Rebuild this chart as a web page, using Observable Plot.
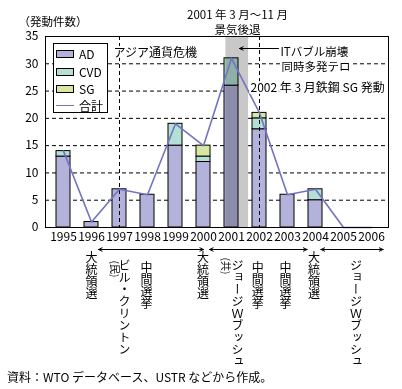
<!DOCTYPE html>
<html><head><meta charset="utf-8">
<script src="https://cdn.jsdelivr.net/npm/d3@7"></script>
<script src="https://cdn.jsdelivr.net/npm/@observablehq/plot@0.6"></script>
<style>
body{margin:0;background:#fff;font-family:"Noto Sans CJK JP",sans-serif;color:#000;}
#wrap{position:relative;width:402px;height:389px;overflow:hidden;}
#legend{position:absolute;left:53px;top:43px;width:55px;height:70px;box-sizing:border-box;border:1px solid #000;background:#fff;font-size:12px;}
.sw{position:absolute;left:2px;width:18px;height:8px;box-sizing:border-box;border:1px solid #000;}
.ln{position:absolute;left:2px;width:18px;height:0;border-top:1.5px solid #7373c3;}
.lt{position:absolute;left:25px;line-height:14px;white-space:nowrap;}
#caption{position:absolute;left:7px;top:369px;font-size:12px;line-height:16px;white-space:nowrap;}
text.vert{writing-mode:vertical-rl;text-orientation:mixed;}
</style></head><body>
<div id="wrap"><div id="chart"></div><div id="legend"></div><div id="caption"></div></div>
<script>
// ---- data ----
const years = ["1995","1996","1997","1998","1999","2000","2001","2002","2003","2004","2005","2006"];
const ad    = [13, 1, 7, 6, 15, 12, 26, 18, 6, 5, 0, 0];
const cvd   = [ 1, 0, 0, 0,  4,  1,  5,  2, 0, 2, 0, 0];
const sg    = [ 0, 0, 0, 0,  0,  2,  0,  1, 0, 0, 0, 0];
const total = [14, 1, 7, 6, 19, 15, 31, 21, 6, 7, 0, 0];
const types = ["AD", "CVD", "SG"];
const totalLabel = "合計";
const yTicks = [0, 5, 10, 15, 20, 25, 30, 35];
const gridTicks = [5, 10, 15, 20, 25, 30];
const eventYears = ["1997", "2002"];
const recessionYear = ["2001"];
const yLabel = "（発動件数）";
const recessionTitle = ["2001 年 3 月～11 月", "景気後退"];
const crisisNote = "アジア通貨危機";
const itNotes = ["ITバブル崩壊", "同時多発テロ"];
const sgNote = "2002 年 3 月鉄鋼 SG 発動";
const politics = [
  {year: "1996", label: "大統領選"},
  {year: "1997", label: "(民)"},
  {year: "1997", label: "ビル・クリントン"},
  {year: "1998", label: "中間選挙"},
  {year: "2000", label: "大統領選"},
  {year: "2001", label: "(共)"},
  {year: "2001", label: "ジョージＷブッシュ"},
  {year: "2002", label: "中間選挙"},
  {year: "2003", label: "中間選挙"},
  {year: "2004", label: "大統領選"},
  {year: "2005", label: "ジョージＷブッシュ"}
];
const terms = [
  {from: "1996", to: "2000"},
  {from: "2000", to: "2004"},
  {from: "2004", to: "2006"}
];
const captionText = "資料：WTO データベース、USTR などから作成。";

// ---- styles / layout ----
const typeColors = ["#b3b2db", "#b4dfd5", "#d8e7a1"];
const lineColor = "#7373c3";
const grayColor = "#c8c8c8";
const FONT = '"Noto Sans CJK JP", "Noto Sans", sans-serif';
const politicsLayout = [[0,24],[-8.5,33],[5,32],[-1,34],[-0.5,24],[-10,30],[6,32],[-1.8,34],[-2,34],[-1.5,24],[12.5,32]];
const termInsets = [[7,0],[6,8.5],[5.5,-11.5]];

const rows = [];
years.forEach((y, i) => {
  [ad, cvd, sg].forEach((arr, k) => { if (arr[i] > 0) rows.push({year: y, type: types[k], value: arr[i]}); });
});
const totals = years.map((y, i) => ({year: y, value: total[i]}));
const recessionTotals = totals.filter(d => recessionYear.includes(d.year));

const halo = {fill: "#000", stroke: "white", strokeWidth: 4};

const verticalLabels = new Set(politics.filter(p => !p.label.startsWith("(")).map(p => p.label));

const politicsMarks = politics.map((p, i) => {
  const [dx, dy] = politicsLayout[i];
  const sideways = p.label.startsWith("(");
  return Plot.text([p], {
    x: "year", text: "label", frameAnchor: "bottom", dx, dy,
    textAnchor: "start", fontSize: sideways ? 10 : 12,
    rotate: sideways ? 90 : 0, fill: "#000"
  });
});

const termMarks = terms.flatMap((t, i) => {
  const [a, b] = termInsets[i];
  const common = {y1: 0, y2: 0, dy: 22, stroke: "#000", strokeWidth: 1, headLength: 6, headAngle: 50};
  return [
    Plot.arrow([t], {...common, x1: "from", x2: "to", insetStart: a, insetEnd: b}),
    Plot.arrow([t], {...common, x1: "to", x2: "from", insetStart: b, insetEnd: a})
  ];
});

const chart = Plot.plot({
  width: 402, height: 389,
  marginTop: 36, marginBottom: 162, marginLeft: 45, marginRight: 14,
  x: {type: "band", domain: years, paddingInner: 0.5, paddingOuter: 0.25},
  y: {domain: [0, 35]},
  color: {domain: types, range: typeColors},
  style: {fontFamily: FONT, fontSize: "12px", color: "#000", background: "transparent", overflow: "visible"},
  marks: [
    Plot.gridY(gridTicks, {stroke: "#000", strokeOpacity: 1, strokeWidth: 1, strokeDasharray: "4,3"}),
    Plot.cell(recessionYear, {x: d => d, fill: grayColor, insetLeft: 1.4, insetRight: -10.1}),
    Plot.barY(rows, {x: "year", y: "value", fill: "type", stroke: "#000", strokeWidth: 1}),
    Plot.barY(recessionTotals, {x: "year", y: "value", fill: grayColor, mixBlendMode: "multiply", insetLeft: 1.4}),
    Plot.ruleX(eventYears, {stroke: "#000", strokeWidth: 1, strokeDasharray: "4,3"}),
    Plot.line(totals, {x: "year", y: "value", stroke: lineColor, strokeWidth: 1.6}),
    Plot.frame({stroke: "#000", strokeWidth: 1}),
    Plot.axisY(yTicks, {tickSize: 0, tickPadding: 7, fontSize: 12, label: null}),
    Plot.axisX({tickSize: 0, tickPadding: 5, fontSize: 12, label: null}),
    // y label
    Plot.text([yLabel], {frameAnchor: "top-left", text: d => d, textAnchor: "start", dx: -27, dy: -19, fontSize: 11.5, fill: "#000"}),
    // recession title
    Plot.text([recessionTitle[0]], {x: () => recessionYear[0], text: d => d, frameAnchor: "top", dx: 6, dy: -26, fontSize: 11.5, fill: "#000"}),
    Plot.text([recessionTitle[1]], {x: () => recessionYear[0], text: d => d, frameAnchor: "top", dx: 6, dy: -10.5, fontSize: 11.5, fill: "#000"}),
    // Asian crisis
    Plot.text([crisisNote], {x: () => eventYears[0], text: d => d, frameAnchor: "top", textAnchor: "start", dx: -6, dy: 12, fontSize: 12, ...halo}),
    // IT bubble / terror
    Plot.arrow([0], {x1: () => "2003", x2: () => recessionYear[0], y1: 35, y2: 35, dx: 8, dy: 12, insetStart: 17, stroke: "#000", strokeWidth: 1, headLength: 6, headAngle: 50}),
    Plot.text([itNotes[0]], {x: () => eventYears[1], text: d => d, frameAnchor: "top", textAnchor: "start", dx: 21, dy: 11, fontSize: 11.5, ...halo}),
    Plot.text([itNotes[1]], {x: () => eventYears[1], text: d => d, frameAnchor: "top", textAnchor: "start", dx: 22, dy: 26, fontSize: 11.5, ...halo}),
    // Steel SG
    Plot.text([sgNote], {x: () => eventYears[1], text: d => d, frameAnchor: "top", textAnchor: "start", dx: -9, dy: 47, fontSize: 12, ...halo}),
    ...termMarks,
    ...politicsMarks
  ]
});

chart.querySelectorAll("text").forEach(t => {
  if (verticalLabels.has(t.textContent)) {
    t.removeAttribute("y");
    t.removeAttribute("dy");
    t.classList.add("vert");
    t.setAttribute("writing-mode", "vertical-rl");
    t.setAttribute("text-anchor", "start");
  }
});

document.getElementById("chart").appendChild(chart);

// legend
const legend = document.getElementById("legend");
const rowTops = [6.3, 23.5, 40.7, 58];
types.forEach((t, k) => {
  const s = document.createElement("div");
  s.className = "sw"; s.style.top = rowTops[k] + "px"; s.style.background = typeColors[k];
  legend.appendChild(s);
  const l = document.createElement("div");
  l.className = "lt"; l.style.top = (rowTops[k] - 3) + "px"; l.textContent = t;
  legend.appendChild(l);
});
const ln = document.createElement("div");
ln.className = "ln"; ln.style.top = (rowTops[3] + 3) + "px";
legend.appendChild(ln);
const lt = document.createElement("div");
lt.className = "lt"; lt.style.top = (rowTops[3] - 3) + "px"; lt.textContent = totalLabel;
legend.appendChild(lt);

document.getElementById("caption").textContent = captionText;
</script>
</body></html>
